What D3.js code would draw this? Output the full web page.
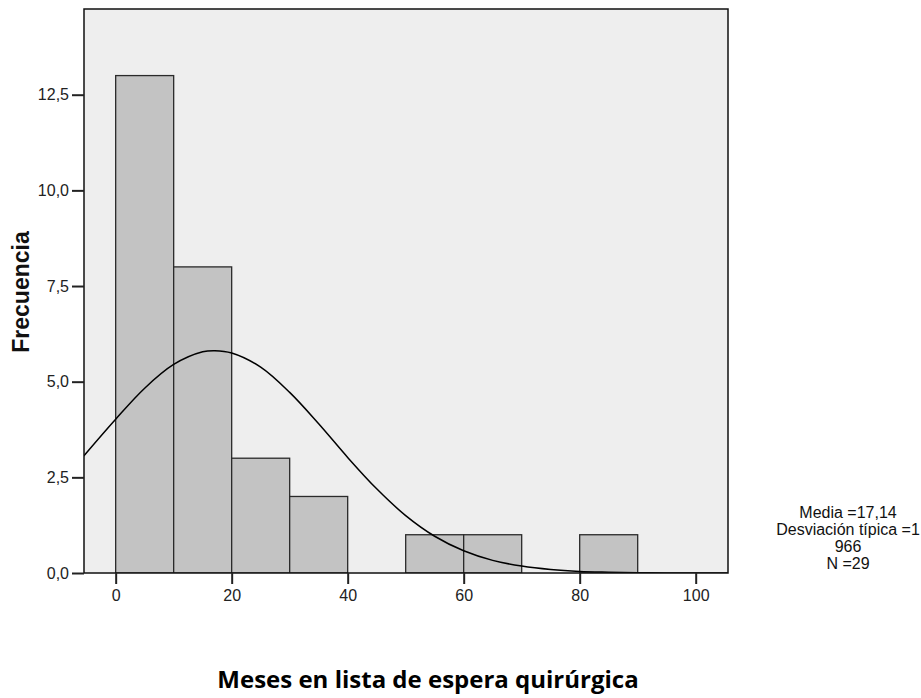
<!DOCTYPE html>
<html>
<head>
<meta charset="utf-8">
<script src="https://cdn.jsdelivr.net/npm/d3@7"></script>
<style>
  body { margin: 0; background: #fff; }
  svg { display: block; }
  .tick-label { font-family: "Liberation Sans", Arial, sans-serif; font-size: 16px; fill: #222; }
</style>
</head>
<body>
<svg id="canvas" width="921" height="698"></svg>
<script>
// histogram data (bin start, width 10)
const binStarts = [0, 10, 20, 30, 40, 50, 60, 70, 80];
const counts    = [13, 8, 3, 2, 0, 1, 1, 0, 1];

// fitted normal curve
const curveX = [-5.5, 0, 5, 10, 15, 17.1, 20, 25, 30, 35, 40, 45, 50, 55, 60, 65, 70, 75, 80, 85, 90, 95, 100, 105.6];
const curveY = [3.06, 4.02, 4.83, 5.45, 5.78, 5.81, 5.75, 5.38, 4.72, 3.9, 3.02, 2.2, 1.5, 0.96, 0.58, 0.33, 0.18, 0.09, 0.04, 0.02, 0.007, 0.003, 0.001, 0.0];

const xTicks = [0, 20, 40, 60, 80, 100];
const yTicks = [0, 2.5, 5, 7.5, 10, 12.5];

const statsLines = ['Media =17,14', 'Desviación típica =1', '966', 'N =29'];
const xTitle = 'Meses en lista de espera quirúrgica';
const yTitle = 'Frecuencia';

// plot box
const plot = { left: 84, right: 728, top: 9, bottom: 573 };

const svg = d3.select('#canvas');

const x = d3.scaleLinear().domain([-5.46, 105.57]).range([plot.left, plot.right]);
const y = d3.scaleLinear().domain([0, 14.74]).range([plot.bottom, plot.top]);

// background
svg.append('rect')
  .attr('x', plot.left).attr('y', plot.top)
  .attr('width', plot.right - plot.left).attr('height', plot.bottom - plot.top)
  .attr('fill', '#eeeeee');

svg.append('clipPath').attr('id', 'clip')
  .append('rect')
    .attr('x', plot.left).attr('y', plot.top)
    .attr('width', plot.right - plot.left).attr('height', plot.bottom - plot.top);

const layer = svg.append('g').attr('clip-path', 'url(#clip)');

// bars
const bins = binStarts.map((b, i) => ({ x0: b, x1: b + 10, n: counts[i] })).filter(d => d.n > 0);
layer.selectAll('rect.bar')
  .data(bins)
  .join('rect')
    .attr('class', 'bar')
    .attr('x', d => x(d.x0))
    .attr('y', d => y(d.n))
    .attr('width', d => x(d.x1) - x(d.x0))
    .attr('height', d => y(0) - y(d.n))
    .attr('fill', '#c3c3c3')
    .attr('stroke', '#2a2a2a')
    .attr('stroke-width', 1.3);

// normal curve
const line = d3.line()
  .x((d, i) => x(curveX[i]))
  .y(d => y(d))
  .curve(d3.curveCatmullRom);

layer.append('path')
  .attr('d', line(curveY))
  .attr('fill', 'none')
  .attr('stroke', '#000')
  .attr('stroke-width', 1.5);

// frame
svg.append('rect')
  .attr('x', plot.left).attr('y', plot.top)
  .attr('width', plot.right - plot.left).attr('height', plot.bottom - plot.top)
  .attr('fill', 'none')
  .attr('stroke', '#111')
  .attr('stroke-width', 1.5);

// axes
const fmt = d => d3.format('.1f')(d).replace('.', ',');

const yAxis = svg.append('g')
  .attr('transform', `translate(${plot.left},0)`)
  .call(d3.axisLeft(y).tickValues(yTicks).tickFormat(fmt).tickSize(12).tickPadding(3));
const xAxis = svg.append('g')
  .attr('transform', `translate(0,${plot.bottom})`)
  .call(d3.axisBottom(x).tickValues(xTicks).tickFormat(d3.format('d')).tickSize(11).tickPadding(6));

[xAxis, yAxis].forEach(g => {
  g.select('.domain').remove();
  g.selectAll('.tick line').attr('stroke', '#222').attr('stroke-width', 2);
  g.selectAll('.tick text').attr('class', 'tick-label').attr('fill', null);
});

// axis titles
svg.append('text')
  .attr('transform', 'translate(29,292) rotate(-90)')
  .attr('text-anchor', 'middle')
  .style('font-family', '"Liberation Sans", Arial, sans-serif')
  .style('font-size', '23px')
  .style('font-weight', 'bold')
  .attr('fill', '#111')
  .text(yTitle);

svg.append('text')
  .attr('x', 428).attr('y', 688)
  .attr('text-anchor', 'middle')
  .style('font-family', '"Open Sans", sans-serif')
  .style('font-size', '24px')
  .style('font-weight', 'bold')
  .attr('fill', '#000')
  .text(xTitle);

// stats box
svg.append('g')
  .selectAll('text')
  .data(statsLines)
  .join('text')
    .attr('x', 848)
    .attr('y', (d, i) => 518 + i * 17)
    .attr('text-anchor', 'middle')
    .style('font-family', '"Liberation Sans", Arial, sans-serif')
    .style('font-size', '16px')
    .attr('fill', '#111')
    .text(d => d);
</script>
</body>
</html>
